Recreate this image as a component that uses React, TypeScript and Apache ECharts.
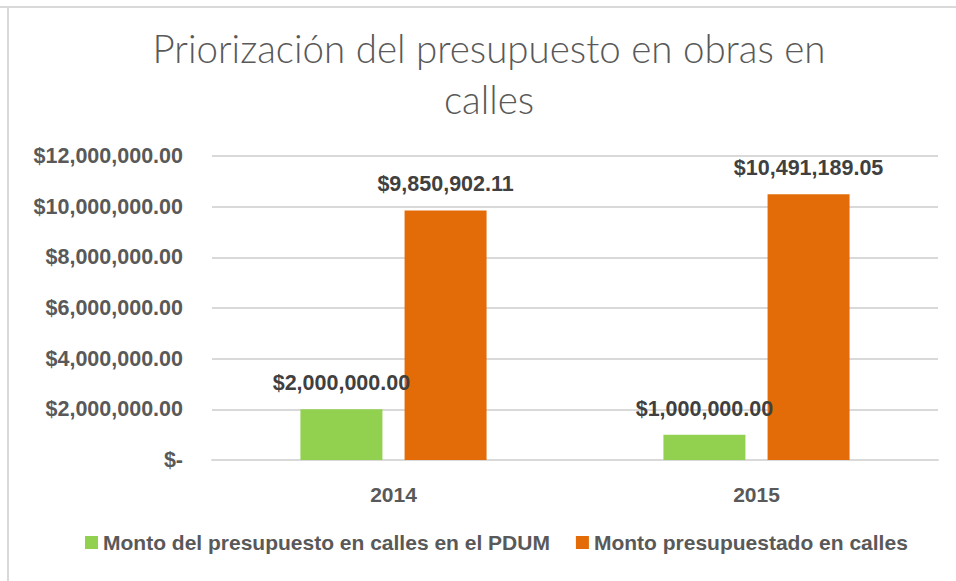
import React, { useEffect, useRef } from "react";
import * as echarts from "echarts";

const categories = ["2014", "2015"];
const seriesNames = ["Monto del presupuesto en calles en el PDUM", "Monto presupuestado en calles"];
const pdumValues = [2000000.0, 1000000.0];
const callesValues = [9850902.11, 10491189.05];
const colors = ["#92D050", "#E36C09"];
const titleText = "Priorización del presupuesto en obras en\ncalles";

const fmtMoney = (v: number) => {
  if (v === 0) return "$-";
  return "$" + v.toLocaleString("en-US", { minimumFractionDigits: 2, maximumFractionDigits: 2 });
};

export default function App() {
  const ref = useRef<HTMLDivElement>(null);
  useEffect(() => {
    if (!ref.current) return;
    const chart = echarts.init(ref.current, null, { renderer: "svg" });
    const labelStyle = {
      show: true,
      position: "top" as const,
      distance: 15,
      formatter: (p: any) => fmtMoney(p.value),
      fontFamily: "Liberation Sans",
      fontWeight: "bold" as const,
      fontSize: 21.5,
      color: "#404040",
    };
    chart.setOption({
      animation: false,
      backgroundColor: "#ffffff",
      legend: {
        bottom: 23,
        left: 80,
        itemWidth: 13,
        itemHeight: 13,
        itemGap: 26,
        icon: "rect",
        textStyle: {
          fontFamily: "Liberation Sans",
          fontWeight: "bold",
          fontSize: 21,
          color: "#595959",
        },
        data: seriesNames,
      },
      grid: { left: 212, right: 18, top: 156, bottom: 121, containLabel: false },
      xAxis: {
        type: "category",
        data: categories,
        axisLine: { lineStyle: { color: "#d9d9d9", width: 2 } },
        axisTick: { show: false },
        axisLabel: {
          margin: 24,
          fontFamily: "Liberation Sans",
          fontWeight: "bold",
          fontSize: 21,
          color: "#595959",
        },
      },
      yAxis: {
        type: "value",
        min: 0,
        max: 12000000,
        interval: 2000000,
        axisLine: { show: false },
        axisTick: { show: false },
        splitLine: { lineStyle: { color: "#d9d9d9", width: 2 } },
        axisLabel: {
          margin: 29,
          formatter: (v: number) => fmtMoney(v),
          fontFamily: "Liberation Sans",
          fontWeight: "bold",
          fontSize: 21.5,
          color: "#595959",
        },
      },
      series: [
        {
          name: seriesNames[0],
          type: "bar",
          data: pdumValues,
          barWidth: 82,
          barGap: "27%",
          itemStyle: { color: colors[0] },
          label: labelStyle,
        },
        {
          name: seriesNames[1],
          type: "bar",
          data: callesValues,
          barWidth: 82,
          barGap: "27%",
          itemStyle: { color: colors[1] },
          label: labelStyle,
        },
      ],
      graphic: [
        { type: "line", shape: { x1: 0, y1: 7, x2: 956, y2: 7 }, style: { stroke: "#d9d9d9", lineWidth: 2 } },
        { type: "line", shape: { x1: 8, y1: 7, x2: 8, y2: 581 }, style: { stroke: "#d9d9d9", lineWidth: 2 } },
        {
          type: "text",
          x: 489,
          y: 22,
          style: {
            text: titleText,
            align: "center",
            verticalAlign: "top",
            fontFamily: "Lato",
            fontWeight: 300,
            fontSize: 38.5,
            lineHeight: 51,
            fill: "#595959",
          },
        },
      ],
    });
    return () => chart.dispose();
  }, []);
  return (
    <div
      ref={ref}
      style={{ position: "fixed", left: 0, top: 0, width: 956, height: 581 }}
    />
  );
}
